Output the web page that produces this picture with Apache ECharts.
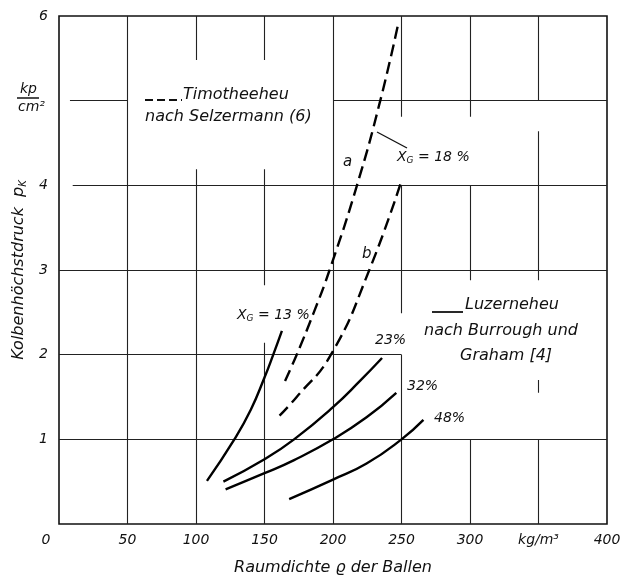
<!DOCTYPE html>
<html><head><meta charset="utf-8">
<script src="https://cdn.jsdelivr.net/npm/echarts@6/dist/echarts.min.js"></script>
<style>html,body{margin:0;padding:0;background:#fff}#c{width:633px;height:581px}</style>
</head><body><div id="c"></div>
<script>
// ---- data ----
const xTicks = [0, 50, 100, 150, 200, 250, 300, 350, 400];
const xTickLabels = ['0', '50', '100', '150', '200', '250', '300', 'kg/m³', '400'];
const yTicks = [0, 1, 2, 3, 4, 5, 6];
const yTickLabels = ['', '1', '2', '3', '4', '', '6'];

// Timotheeheu (dashed), X_G = 18 %
const timoA = [[165, 1.69], [173.5, 2.0], [186, 2.5], [197.5, 3.0], [217.5, 4.0], [234.5, 5.0], [247.5, 5.9]];
const timoB = [[161, 1.28], [173.5, 1.5], [198.5, 2.0], [226.5, 3.0], [250.3, 4.07]];
// Luzerneheu (solid)
const luz13 = [[108, 0.51], [128, 1.0], [140, 1.35], [150, 1.73], [156.4, 2.0], [162.7, 2.28]];
const luz23 = [[120, 0.5], [150, 0.765], [171.6, 1.0], [200, 1.38], [219.7, 1.69], [235.8, 1.96]];
const luz32 = [[121.6, 0.41], [150, 0.6], [171.6, 0.755], [200, 1.0], [224.5, 1.26], [246.2, 1.55]];
const luz48 = [[168, 0.294], [200, 0.525], [224.5, 0.714], [250, 1.0], [266, 1.23]];

// partial grid lines of the original drawing, in data units
const gridVertical = [
  [50, 0, 6],
  [100, 0, 4.19], [100, 5.48, 6],
  [150, 0, 2.14], [150, 2.82, 4.19], [150, 5.48, 6],
  [200, 0, 6],
  [250, 0, 2.0], [250, 2.49, 4.0], [250, 4.81, 6],
  [300, 0, 1.0], [300, 2.88, 4.0], [300, 4.81, 6],
  [350, 0, 1.0], [350, 1.55, 1.7], [350, 2.88, 4.64], [350, 5.0, 6]
];
const gridHorizontal = [
  [1, 0, 400],
  [2, 0, 250],
  [3, 0, 400],
  [4, 10, 400],
  [5, 8, 50], [5, 200, 400]
];

// ---- chart ----
const FONT = 'DejaVu Sans';
const chart = echarts.init(document.getElementById('c'), null, { renderer: 'canvas' });

const gridLines = [];
gridVertical.forEach(([x, y1, y2]) => gridLines.push({ coords: [[x, y1], [x, y2]] }));
gridHorizontal.forEach(([y, x1, x2]) => gridLines.push({ coords: [[x1, y], [x2, y]] }));

function curve(name, data, dashed) {
  return {
    name, type: 'line', data, smooth: 0.5, showSymbol: false, symbol: 'none', silent: true,
    lineStyle: { color: '#000', width: 2.4, type: dashed ? [12, 6] : 'solid' },
    z: 5
  };
}

const txt = { fontFamily: FONT, fontStyle: 'italic', fill: '#111' };
const subRich = {
  x: { fontFamily: FONT, fontStyle: 'italic', fontSize: 14, fill: '#111' },
  s: { fontFamily: FONT, fontStyle: 'italic', fontSize: 9, fill: '#111', padding: [8, 0, 0, 0] }
};

chart.setOption({
  backgroundColor: '#fff',
  animation: false,
  grid: { left: 59, right: 26, top: 16, bottom: 54, show: true, borderColor: '#111', borderWidth: 1.6 },
  xAxis: {
    type: 'value', min: 0, max: 400, interval: 50,
    axisLine: { show: false }, axisTick: { show: false }, splitLine: { show: false },
    axisLabel: {
      margin: 9, color: '#111', fontFamily: FONT, fontStyle: 'italic', fontSize: 14,
      formatter: v => {
        const i = xTicks.indexOf(v);
        if (i < 0) return '';
        return v === 0 ? '{z|0}' : xTickLabels[i];
      },
      rich: { z: { fontFamily: FONT, fontStyle: 'italic', fontSize: 14, color: '#111', padding: [0, 26, 0, 0] } }
    },
    name: 'Raumdichte ϱ der Ballen', nameLocation: 'middle', nameGap: 36,
    nameTextStyle: { fontFamily: FONT, fontStyle: 'italic', fontSize: 16, color: '#111' }
  },
  yAxis: {
    type: 'value', min: 0, max: 6, interval: 1,
    axisLine: { show: false }, axisTick: { show: false }, splitLine: { show: false },
    axisLabel: {
      margin: 11, color: '#111', fontFamily: FONT, fontStyle: 'italic', fontSize: 14,
      formatter: v => { const i = yTicks.indexOf(v); return i < 0 ? '' : yTickLabels[i]; }
    },
    name: '{t|Kolbenhöchstdruck  p}{s|K}', nameLocation: 'middle', nameGap: 30, nameRotate: 90,
    nameTextStyle: {
      rich: {
        t: { fontFamily: FONT, fontStyle: 'italic', fontSize: 16, color: '#111' },
        s: { fontFamily: FONT, fontStyle: 'italic', fontSize: 10, color: '#111', padding: [9, 0, 0, 0] }
      }
    }
  },
  series: [
    {
      type: 'lines', coordinateSystem: 'cartesian2d', silent: true, z: 1,
      lineStyle: { color: '#222', width: 1.1, opacity: 1 },
      data: gridLines
    },
    curve('a', timoA, true),
    curve('b', timoB, true),
    curve('13', luz13, false),
    curve('23', luz23, false),
    curve('32', luz32, false),
    curve('48', luz48, false)
  ],
  graphic: [
    // unit of y axis
    { type: 'text', left: 20, top: 82, style: Object.assign({ text: 'kp', fontSize: 14 }, txt) },
    { type: 'line', shape: { x1: 17, y1: 98, x2: 39, y2: 98 }, style: { stroke: '#111', lineWidth: 1.5 } },
    { type: 'text', left: 18, top: 100, style: Object.assign({ text: 'cm²', fontSize: 14 }, txt) },
    // Timotheeheu legend
    { type: 'line', shape: { x1: 145, y1: 100, x2: 182, y2: 100 }, style: { stroke: '#111', lineWidth: 1.8, lineDash: [8, 4] } },
    { type: 'text', left: 183, top: 87, style: Object.assign({ text: 'Timotheeheu', fontSize: 16 }, txt) },
    { type: 'text', left: 145, top: 109, style: Object.assign({ text: 'nach Selzermann (6)', fontSize: 16 }, txt) },
    // Luzerneheu legend
    { type: 'line', shape: { x1: 432, y1: 312, x2: 463, y2: 312 }, style: { stroke: '#111', lineWidth: 1.8 } },
    { type: 'text', left: 465, top: 297, style: Object.assign({ text: 'Luzerneheu', fontSize: 16 }, txt) },
    { type: 'text', left: 424, top: 323, style: Object.assign({ text: 'nach Burrough und', fontSize: 16 }, txt) },
    { type: 'text', left: 460, top: 348, style: Object.assign({ text: 'Graham [4]', fontSize: 16 }, txt) },
    // curve labels
    { type: 'text', left: 237, top: 308, style: Object.assign({ text: '{x|X}{s|G}{x| = 13 %}', rich: subRich }, txt) },
    { type: 'text', left: 397, top: 150, style: Object.assign({ text: '{x|X}{s|G}{x| = 18 %}', rich: subRich }, txt) },
    { type: 'line', shape: { x1: 377, y1: 132, x2: 407, y2: 148 }, style: { stroke: '#111', lineWidth: 1.2 } },
    { type: 'text', left: 343, top: 155, style: Object.assign({ text: 'a', fontSize: 15 }, txt) },
    { type: 'text', left: 362, top: 247, style: Object.assign({ text: 'b', fontSize: 15 }, txt) },
    { type: 'text', left: 375, top: 333, style: Object.assign({ text: '23%', fontSize: 14 }, txt) },
    { type: 'text', left: 407, top: 379, style: Object.assign({ text: '32%', fontSize: 14 }, txt) },
    { type: 'text', left: 434, top: 411, style: Object.assign({ text: '48%', fontSize: 14 }, txt) }
  ]
});
</script></body></html>
